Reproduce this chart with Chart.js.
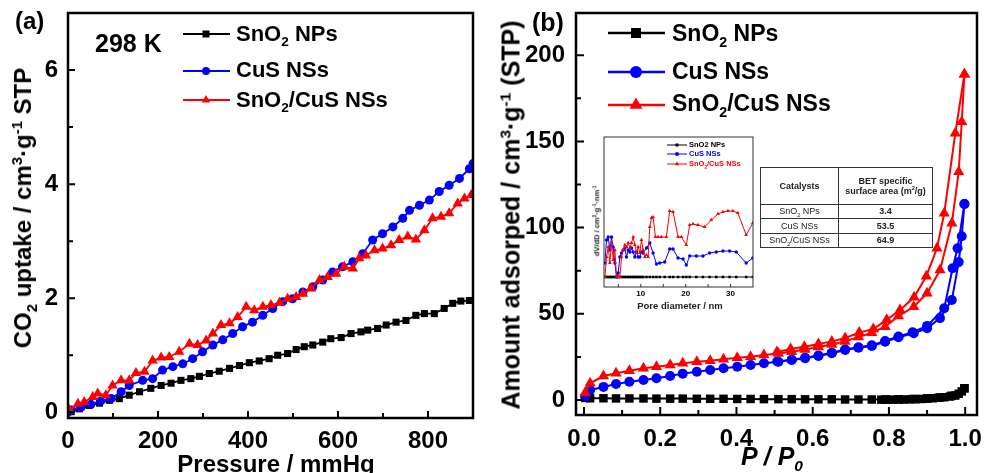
<!DOCTYPE html>
<html>
<head>
<meta charset="utf-8">
<script src="https://cdn.jsdelivr.net/npm/chart.js@4.4.0/dist/chart.umd.min.js"></script>
<style>
  body { margin: 0; background: #fff; }
  #wrap { position: relative; width: 985px; height: 473px; overflow: hidden;
          font-family: "Liberation Sans", Arial, sans-serif; font-weight: bold; color: #000; }
  canvas { position: absolute; }
  .t { position: absolute; white-space: nowrap; line-height: 1; }
  .rot { transform: translate(-50%, -50%) rotate(-90deg); }
  .cx { transform: translateX(-50%); }
  sub, sup { font-size: 0.62em; line-height: 0; }
  #tbl { position: absolute; left: 760px; top: 167px; width: 172px; height: 81px;
         border-collapse: collapse; font-size: 9px; color: #222; table-layout: fixed; }
  #tbl th, #tbl td { border: 1.5px solid #333; text-align: center; padding: 0; line-height: 1.15; }
  #tbl td { font-weight: normal; }
  #tbl td.v { font-weight: bold; }
</style>
</head>
<body>
<div id="wrap">
  <canvas id="cA" width="490" height="473" style="left:0;top:0"></canvas>
  <canvas id="cB" width="495" height="473" style="left:490px;top:0"></canvas>
  <canvas id="cI" width="170" height="185" style="left:590px;top:130px"></canvas>

  <!-- panel (a) texts -->
  <div class="t" style="left:15px;top:9px;font-size:24px">(a)</div>
  <div class="t" style="left:95px;top:31px;font-size:25px">298 K</div>
  <div class="t rot" style="left:23px;top:208px;font-size:24px">CO<sub>2</sub> uptake / cm<sup>3</sup>·g<sup>-1</sup> STP</div>
  <div class="t cx" style="left:276px;top:452px;font-size:24px">Pressure / mmHg</div>
  <div class="t" style="left:236px;top:23px;font-size:22px">SnO<sub>2</sub> NPs</div>
  <div class="t" style="left:236px;top:59px;font-size:22px">CuS NSs</div>
  <div class="t" style="left:236px;top:89px;font-size:22px">SnO<sub>2</sub>/CuS NSs</div>

  <!-- panel (b) texts -->
  <div class="t" style="left:532px;top:10px;font-size:25px">(b)</div>
  <div class="t rot" style="left:511px;top:215px;font-size:25px">Amount adsorped / cm<sup>3</sup>·g<sup>-1</sup> (STP)</div>
  <div class="t cx" style="left:772px;top:444px;font-size:25px;font-style:italic">P / P<sub>0</sub></div>
  <div class="t" style="left:672px;top:22px;font-size:23px">SnO<sub>2</sub> NPs</div>
  <div class="t" style="left:672px;top:60px;font-size:23px">CuS NSs</div>
  <div class="t" style="left:672px;top:92px;font-size:23px">SnO<sub>2</sub>/CuS NSs</div>

  <!-- inset texts -->
  <div class="t" style="left:689px;top:141px;font-size:7.5px">SnO2 NPs</div>
  <div class="t" style="left:689px;top:150px;font-size:7.5px;color:#00f">CuS NSs</div>
  <div class="t" style="left:689px;top:160px;font-size:7.5px;color:#f00">SnO<sub>2</sub>/CuS NSs</div>
  <div class="t rot" style="left:597px;top:221px;font-size:7.5px;color:#222">dV/dD / cm<sup>3</sup>·g<sup>-1</sup>·nm<sup>-1</sup></div>
  <div class="t cx" style="left:680px;top:301px;font-size:9.5px;color:#222">Pore diameter / nm</div>

  <table id="tbl">
    <colgroup><col style="width:78px"><col style="width:94px"></colgroup>
    <tr style="height:37px"><th>Catalysts</th><th>BET specific<br>surface area (m<sup>2</sup>/g)</th></tr>
    <tr><td>SnO<sub>2</sub> NPs</td><td class="v">3.4</td></tr>
    <tr><td>CuS NSs</td><td class="v">53.5</td></tr>
    <tr><td>SnO<sub>2</sub>/CuS NSs</td><td class="v">64.9</td></tr>
  </table>

  <!-- legend samples -->
  <svg width="985" height="473" style="position:absolute;left:0;top:0;pointer-events:none">
    <g stroke-width="2">
      <line x1="183" y1="34" x2="230" y2="34" stroke="#000"/>
      <rect x="202.5" y="30.5" width="7" height="7" fill="#000"/>
      <line x1="183" y1="71" x2="230" y2="71" stroke="#00f"/>
      <circle cx="206" cy="71" r="4" fill="#00f"/>
      <line x1="183" y1="100" x2="230" y2="100" stroke="#f00"/>
      <polygon points="206,95 201.7,102.5 210.3,102.5" fill="#f00"/>
    </g>
    <g stroke-width="2.5">
      <line x1="608" y1="33" x2="665" y2="33" stroke="#000"/>
      <rect x="631" y="28" width="10" height="10" fill="#000"/>
      <line x1="608" y1="72" x2="665" y2="72" stroke="#00f"/>
      <circle cx="636" cy="72" r="6" fill="#00f"/>
      <line x1="608" y1="105" x2="665" y2="105" stroke="#f00"/>
      <polygon points="636,97.5 629.5,108.8 642.5,108.8" fill="#f00"/>
    </g>
    <g stroke-width="1">
      <line x1="667" y1="145" x2="687" y2="145" stroke="#000"/>
      <rect x="675.5" y="143.5" width="3" height="3" fill="#000"/>
      <line x1="667" y1="154" x2="687" y2="154" stroke="#00f"/>
      <circle cx="677" cy="154" r="2" fill="#00f"/>
      <line x1="667" y1="164" x2="687" y2="164" stroke="#f00"/>
      <polygon points="677,161.5 674.8,165.3 679.2,165.3" fill="#f00"/>
    </g>
  </svg>
</div>
<script>
// ---- (a) CO2 uptake at 298 K ----
const pressureSnO2 = [7, 25, 47, 70, 92, 114, 136, 159, 184, 207, 229, 251, 273, 292, 314, 336, 359, 381, 403, 425,
  447, 466, 488, 507, 525, 544, 566, 584, 607, 629, 651, 666, 688, 707, 729, 751, 773, 792, 814, 836, 855, 873, 892]
const uptakeSnO2 = [0.01, 0.06, 0.12, 0.16, 0.21, 0.24, 0.30, 0.36, 0.42, 0.47, 0.51, 0.56, 0.59, 0.63, 0.68, 0.72, 0.77, 0.82, 0.87, 0.90,
  0.94, 1.00, 1.03, 1.10, 1.15, 1.18, 1.23, 1.29, 1.31, 1.38, 1.41, 1.44, 1.47, 1.53, 1.58, 1.61, 1.70, 1.73, 1.73, 1.82, 1.91, 1.95, 1.96]
const pressureCuS = [0, 7, 29, 51, 73, 96, 118, 136, 166, 188, 210, 233, 255, 277, 299, 322, 344, 366, 388, 410,
  433, 455, 477, 499, 522, 544, 566, 588, 610, 633, 655, 677, 699, 722, 744, 759, 781, 803, 825, 847, 870, 892, 900]
const uptakeCuS = [0.0, 0.04, 0.09, 0.14, 0.20, 0.24, 0.36, 0.47, 0.56, 0.59, 0.74, 0.80, 0.85, 0.94, 1.06, 1.18, 1.27, 1.38, 1.50, 1.58,
  1.70, 1.82, 1.94, 1.99, 2.11, 2.20, 2.32, 2.46, 2.55, 2.64, 2.78, 3.02, 3.13, 3.25, 3.40, 3.54, 3.63, 3.72, 3.87, 3.98, 4.10, 4.27, 4.36]
const pressureComposite = [3, 22, 36, 55, 66, 84, 99, 118, 136, 151, 170, 188, 207, 225, 247, 270, 288, 307, 322, 340,
  359, 377, 396, 414, 433, 451, 470, 488, 507, 522, 540, 559, 577, 596, 614, 633, 647, 662, 681, 699,
  718, 736, 755, 773, 792, 810, 829, 847, 866, 881, 896]
const uptakeComposite = [0.04, 0.15, 0.18, 0.27, 0.33, 0.30, 0.47, 0.56, 0.56, 0.69, 0.71, 0.91, 0.96, 0.97, 1.06, 1.20, 1.18, 1.26, 1.38, 1.53,
  1.56, 1.67, 1.85, 1.79, 1.85, 1.88, 1.92, 1.99, 2.02, 2.08, 2.17, 2.32, 2.37, 2.43, 2.55, 2.52, 2.70, 2.75, 2.84, 2.87,
  2.93, 3.02, 3.08, 3.03, 3.19, 3.40, 3.43, 3.49, 3.66, 3.75, 3.81]
const xMajorA = [0, 200, 400, 600, 800]
const xMinorA = [100, 300, 500, 700]
const yMajorA = [0, 2, 4, 6]
const yMinorA = [1, 3, 5]

// ---- (b) N2 isotherms ----
const pAds = [0.003, 0.016, 0.051, 0.084, 0.119, 0.156, 0.19, 0.226, 0.259, 0.296, 0.331, 0.366, 0.402, 0.437, 0.472, 0.51,
  0.545, 0.58, 0.615, 0.65, 0.685, 0.72, 0.755, 0.79, 0.825, 0.865, 0.9, 0.934, 0.965, 0.983, 0.991, 0.998]
const adsSnO2 = [1.2, 1.0, 1.0, 0.9, 0.9, 0.9, 0.8, 0.8, 0.8, 0.7, 0.7, 0.7, 0.6, 0.6, 0.5, 0.5,
  0.5, 0.4, 0.4, 0.4, 0.3, 0.3, 0.3, 0.3, 0.4, 0.6, 0.9, 1.5, 2.5, 3.6, 5.0, 6.8]
const adsCuS = [1.9, 5.8, 7.6, 9.3, 10.6, 11.6, 12.6, 13.9, 15.3, 16.4, 17.4, 18.4, 19.3, 20.3, 21.3, 22.2,
  23.2, 24.2, 25.5, 27.1, 29.0, 30.3, 31.3, 33.8, 36.4, 38.7, 41.6, 47.5, 58.0, 80.0, 95.0, 113.7]
const adsComposite = [4.2, 9.7, 13.9, 15.5, 17.0, 18.4, 19.3, 20.3, 21.3, 22.2, 22.8, 23.6, 24.5, 25.1, 26.1, 27.0,
  28.0, 29.3, 30.8, 32.2, 34.0, 36.5, 39.0, 42.5, 48.7, 54.1, 61.9, 75.4, 102.5, 132.4, 161.4, 189.0]
const pDesSnO2 = [0.998, 0.974, 0.96, 0.945, 0.93, 0.915, 0.9, 0.885, 0.87, 0.855, 0.84, 0.825, 0.81, 0.795, 0.78]
const desSnO2 = [6.8, 2.6, 2.0, 1.6, 1.3, 1.0, 0.8, 0.6, 0.5, 0.4, 0.3, 0.3, 0.2, 0.2, 0.2]
const pDesCuS = [0.998, 0.98, 0.967, 0.945, 0.9, 0.862, 0.825, 0.79, 0.755, 0.72, 0.685, 0.65, 0.615, 0.58, 0.545, 0.507]
const desCuS = [113.7, 88.0, 76.4, 53.2, 43.0, 39.3, 36.8, 34.2, 31.8, 30.6, 29.3, 27.4, 25.8, 24.5, 23.4, 22.4]
const pDesComposite = [0.998, 0.974, 0.945, 0.926, 0.898, 0.866, 0.829, 0.794, 0.759, 0.722, 0.685, 0.65, 0.615, 0.578, 0.542, 0.506]
const desComposite = [189.0, 154.7, 108.3, 88.0, 71.8, 59.6, 52.2, 46.5, 41.2, 39.1, 36.0, 34.0, 32.5, 30.9, 29.6, 27.8]
const xMajorB = [0, 0.2, 0.4, 0.6, 0.8, 1.0]
const xMinorB = [0.1, 0.3, 0.5, 0.7, 0.9]
const yMajorB = [0, 50, 100, 150, 200]
const yMinorB = [25, 75, 125, 175]

// ---- inset: pore size distribution ----
const poreCuS = [2.0, 2.37, 2.74, 3.11, 3.48, 3.85, 4.22, 4.59, 4.96, 5.33, 5.70, 6.07, 6.44, 6.81, 7.19, 7.56, 7.93, 8.30,
  8.67, 9.04, 9.41, 9.78, 10.15, 10.52, 11.26, 12.0, 12.74, 13.48, 14.22, 15.33, 16.44, 17.19, 18.30, 19.41, 20.15,
  20.89, 22.37, 23.85, 25.33, 26.81, 28.30, 29.78, 31.26, 33.48, 34.96]
const psdCuS = [2.4, 4.7, 5.0, 3.7, 5.0, 4.0, 2.4, 1.0, 1.4, 3.0, 3.4, 3.7, 3.9, 3.0, 3.7, 3.5, 3.9, 3.5,
  3.0, 3.5, 3.0, 3.0, 3.5, 3.4, 3.9, 4.4, 3.4, 2.3, 2.4, 2.5, 3.8, 3.8, 2.9, 2.8, 2.2,
  3.1, 3.1, 3.1, 3.4, 3.5, 3.6, 3.6, 3.5, 2.4, 2.9]
const psdSnO2 = [1.0, 1.0, 1.0, 1.0, 1.0, 1.0, 1.0, 1.0, 1.0, 1.0, 1.0, 1.0, 1.0, 1.0, 1.0, 1.0, 1.0, 1.0,
  1.0, 1.0, 1.0, 1.0, 1.0, 1.0, 1.0, 1.0, 1.0, 1.0, 1.0, 1.0, 1.0, 1.0, 1.0, 1.0, 1.0,
  1.0, 1.0, 1.0, 1.0, 1.0, 1.0, 1.0, 1.0, 1.0, 1.0]
const poreComposite = [2.0, 2.37, 2.74, 3.11, 3.48, 3.85, 4.22, 4.59, 4.96, 5.33, 5.70, 6.07, 6.44, 6.81, 7.19, 7.56, 7.93,
  8.30, 8.67, 9.04, 9.41, 9.78, 10.15, 10.52, 10.89, 11.26, 11.63, 12.0, 12.37, 12.74, 13.26, 13.85, 14.59, 15.70,
  16.44, 17.19, 18.30, 19.04, 20.15, 20.89, 21.63, 22.74, 24.22, 25.70, 27.19, 28.30, 29.41, 30.52, 31.63, 33.48, 34.96]
const psdComposite = [1.0, 3.0, 4.0, 2.4, 4.4, 2.7, 3.7, 1.0, 1.0, 1.0, 3.0, 3.7, 4.2, 4.0, 4.4, 3.9, 4.4,
  5.0, 4.2, 3.4, 4.0, 3.4, 4.7, 3.7, 3.0, 3.2, 3.0, 6.0, 6.9, 7.0, 5.0, 5.0, 5.0, 5.0,
  7.6, 7.5, 5.0, 5.0, 4.2, 6.2, 6.3, 6.2, 6.0, 6.7, 7.3, 7.5, 7.6, 7.6, 7.4, 5.2, 6.4]
const xMajorI = [10, 20, 30]
const xMinorI = [5, 15, 25]

const FONT = '"Liberation Sans", Arial, sans-serif'
const BLACK = '#000000', BLUE = '#0000ff', RED = '#ff0000'

function pts(xs, ys) { return xs.map((x, i) => ({ x: x, y: ys[i] })) }

// marco y marcas hacia dentro
const framePlugin = {
  id: 'frame',
  afterDraw(chart, args, o) {
    const { ctx, chartArea: a, scales } = chart
    ctx.save()
    ctx.strokeStyle = o.color
    ctx.lineWidth = o.width
    ctx.strokeRect(a.left, a.top, a.right - a.left, a.bottom - a.top)
    ctx.beginPath()
    const xt = (vals, len) => vals.forEach(v => {
      const px = scales.x.getPixelForValue(v)
      ctx.moveTo(px, a.bottom); ctx.lineTo(px, a.bottom - len)
    })
    const yt = (vals, len) => vals.forEach(v => {
      const py = scales.y.getPixelForValue(v)
      ctx.moveTo(a.left, py); ctx.lineTo(a.left + len, py)
    })
    xt(o.xMajor || [], o.major); xt(o.xMinor || [], o.minor)
    yt(o.yMajor || [], o.major); yt(o.yMinor || [], o.minor)
    ctx.lineWidth = o.tickWidth
    ctx.stroke()
    ctx.restore()
  }
}

function series(data, color, style, radius, width) {
  return {
    data: data, showLine: true, borderColor: color, backgroundColor: color,
    borderWidth: width, pointStyle: style, pointRadius: radius, pointBorderWidth: 0, pointHoverRadius: radius
  }
}

// eje con tamaño fijo, sin el relleno extra que Chart.js reserva para las etiquetas
function axis(min, max, ticksList, size, padding, fmt, fitKey, fitVal) {
  return {
    type: 'linear', min: min, max: max,
    grid: { display: false, drawTicks: false }, border: { display: false },
    afterBuildTicks: s => { s.ticks = ticksList.map(v => ({ value: v })) },
    afterFit: s => {
      s[fitKey] = fitVal
      s.paddingTop = 0; s.paddingBottom = 0; s.paddingLeft = 0; s.paddingRight = 0
    },
    ticks: { padding: padding, color: '#000', font: { family: FONT, size: size, weight: 'bold' }, callback: fmt }
  }
}

// (a)
new Chart(document.getElementById('cA'), {
  type: 'scatter',
  data: {
    datasets: [
      series(pts(pressureComposite, uptakeComposite), RED, 'triangle', 6, 1.8),
      series(pts(pressureCuS, uptakeCuS), BLUE, 'circle', 4.5, 1.8),
      series(pts(pressureSnO2, uptakeSnO2), BLACK, 'rect', 5, 1.8)
    ]
  },
  options: {
    responsive: false, animation: false,
    layout: { padding: { top: 13, right: 17, left: 0, bottom: 0 } },
    plugins: {
      legend: { display: false }, tooltip: { enabled: false },
      frame: { color: '#000', width: 2.5, tickWidth: 2, major: 7, minor: 5,
               xMajor: xMajorA, xMinor: xMinorA, yMajor: yMajorA, yMinor: yMinorA }
    },
    scales: {
      x: axis(0, 900, xMajorA, 24, 9, v => String(v), 'height', 55),
      y: axis(-0.1, 7, yMajorA, 24, 10, v => String(v), 'width', 68)
    }
  },
  plugins: [framePlugin]
})

// (b)
new Chart(document.getElementById('cB'), {
  type: 'scatter',
  data: {
    datasets: [
      series(pts(pDesComposite, desComposite), RED, 'triangle', 6.5, 2),
      series(pts(pAds, adsComposite), RED, 'triangle', 6.5, 2),
      series(pts(pDesCuS, desCuS), BLUE, 'circle', 5, 2),
      series(pts(pAds, adsCuS), BLUE, 'circle', 5, 2),
      series(pts(pDesSnO2, desSnO2), BLACK, 'rect', 6, 2),
      series(pts(pAds, adsSnO2), BLACK, 'rect', 6, 2)
    ]
  },
  options: {
    responsive: false, animation: false,
    layout: { padding: { top: 13, right: 8, left: 0, bottom: 0 } },
    plugins: {
      legend: { display: false }, tooltip: { enabled: false },
      frame: { color: '#000', width: 2.5, tickWidth: 2, major: 8, minor: 5,
               xMajor: xMajorB, xMinor: xMinorB, yMajor: yMajorB, yMinor: yMinorB }
    },
    scales: {
      x: axis(-0.021, 1.031, xMajorB, 24, 10, v => v.toFixed(1), 'height', 58),
      y: axis(-8.7, 224.5, yMajorB, 24, 11, v => String(v), 'width', 86)
    }
  },
  plugins: [framePlugin]
})

// recuadro interior
new Chart(document.getElementById('cI'), {
  type: 'scatter',
  data: {
    datasets: [
      series(pts(poreComposite, psdComposite), RED, 'triangle', 2.2, 1),
      series(pts(poreCuS, psdCuS), BLUE, 'circle', 1.7, 1),
      series(pts(poreCuS, psdSnO2), BLACK, 'rect', 1.8, 1)
    ]
  },
  options: {
    responsive: false, animation: false,
    layout: { padding: { top: 7, right: 7, left: 14, bottom: 0 } },
    plugins: {
      legend: { display: false }, tooltip: { enabled: false },
      frame: { color: '#333', width: 1, tickWidth: 1, major: 3, minor: 3,
               xMajor: xMajorI, xMinor: xMinorI }
    },
    scales: {
      x: axis(1.8, 35, xMajorI, 8, 2, v => String(v), 'height', 28),
      y: { type: 'linear', min: 0, max: 15, display: false }
    }
  },
  plugins: [framePlugin]
})
</script>
</body>
</html>
